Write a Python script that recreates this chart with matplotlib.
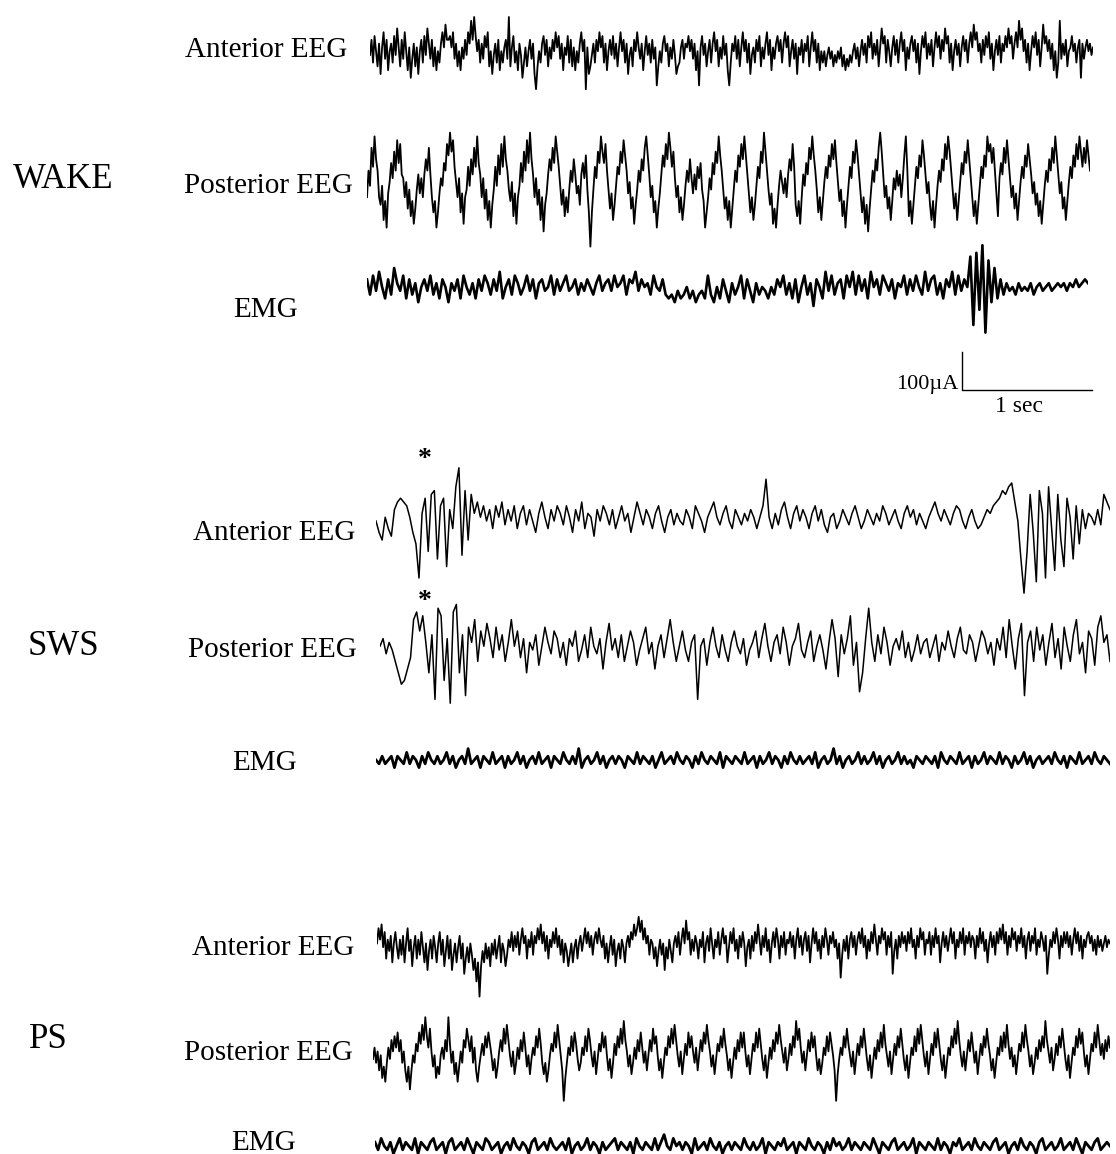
import numpy as np
import matplotlib
matplotlib.use("Agg")
from matplotlib import pyplot as plt

# trace values, in units of 10 uA (scale bar = 10 units)
wake_anterior = [
    0, 4, -2, 5, 1, -3, 3, -5, 2, 6, -1, 4, -4, 1, 3,
    -2, 5, 0, 7, 2, -3, 4, -1, 6, 1, -4, 2, -6, -1, 3,
    -3, 2, -5, 1, 4, -2, 5, 0, 7, 3, -1, 4, -3, 2, -4,
    1, -2, 3, 6, 2, 8, 4, 4, 5, 2, 6, -1, 3, -3, 1,
    -4, 2, -1, 4, 0, 6, 3, 9, 4, 10, 5, 1, 4, -2, 3,
    -1, 5, 2, 6, -3, 1, -5, 0, 3, -2, 4, -4, 1, -2, 2,
    4, -1, 10, -3, 2, 5, -2, 1, -4, 3, 0, -6, -2, 2, -3,
    1, 4, -1, 3, -5, -9, -3, 1, -2, 3, 5, 0, 4, -3, 2,
    -1, 4, 1, 6, 2, 5, -1, 3, -4, 2, 0, 5, -2, 4, -3,
    2, -4, 1, -2, 3, 6, 1, 4, -9, 2, -5, -3, 0, 3, -2,
    4, 1, 6, 2, 5, -2, 3, -4, 1, 4, 0, 5, -1, 3, -3,
    2, 6, 1, 4, -2, 3, -5, 0, 2, -3, 4, 1, 6, 2, -1,
    3, -4, 1, 5, 0, 3, -2, 4, -1, 2, -8, -3, 1, -2, 3,
    5, 1, 3, -3, 2, -1, 4, 0, -5, -3, -2, 2, 4, -1, 3,
    2, 5, 1, 4, -1, 3, -4, 1, -8, 2, 5, 0, 3, -3, 1,
    4, -2, 3, 6, 1, 4, -3, 2, -1, 5, 0, 3, -4, -8, -2,
    3, 1, 5, -1, 4, -3, 2, 6, 1, 4, -2, 3, -5, 0, 2,
    -2, 4, 1, 5, -3, 2, -1, 3, 6, 0, 4, -4, 2, -1, 3,
    5, 1, 4, -2, 3, 6, 2, 5, -3, 1, 4, -1, 3, -5, 2,
    0, 4, -2, 3, 1, 5, -3, 2, 6, 1, 4, -2, 3, -4, 1,
    -2, 1, -3, 0, 2, -1, 1, -3, 0, -2, 1, -1, 2, -3, 0,
    -4, -1, -3, 0, -2, 1, 3, -1, 2, -3, 1, 4, 0, 3, -2,
    5, 2, 6, -1, 3, 0, 4, -3, 2, 7, 3, 5, -2, 4, 1,
    -3, 2, 5, 0, 4, -2, 3, 6, 1, 4, -4, 2, -1, 3, 5,
    1, 4, -2, 3, -5, 1, 5, 2, 6, -1, 3, 0, 4, -3, 2,
    6, 2, 5, -1, 4, 1, 7, 3, 5, -2, 3, -4, 1, 4, 0,
    3, -3, 2, 5, 1, 4, -2, 3, 6, 2, 8, 4, 6, 1, 3,
    -2, 4, 0, 5, 2, 6, -1, 3, -4, 1, 4, 0, 5, -2, 3,
    1, 5, 2, 7, 3, 5, -1, 3, 6, 2, 9, 4, 7, 1, 4,
    -2, 3, -4, 1, 5, 2, 6, 0, 4, -3, 2, 8, 3, 5, 1,
    4, -1, 3, -4, 1, -6, -2, 9, -1, 3, 0, 4, -3, 1, 2,
    5, 1, 3, -2, 2, 4, -6, 3, -1, 2, 4, 1, 3, 0, 2,
]
wake_posterior = [
    -4, 3, -1, 9, 4, 12, 6, 3, -4, -6, -1, -10, -5, -12, -3,
    0, 5, 1, 8, 3, 11, 5, 10, 2, 1, -4, 0, -7, -2, -9,
    -5, -11, -7, -2, 2, -3, 1, -4, 2, 6, 3, 9, 2, -4, -8,
    -5, -12, -8, -3, 1, -1, 5, 3, 10, 7, 13, 8, 11, 4, 0,
    -4, 1, -8, -3, -11, -4, -2, 4, -1, 6, 2, 9, 4, 12, 5,
    2, -4, 1, -7, -2, -10, -5, -12, -6, -2, 4, -1, 7, 2, 10,
    4, 12, 6, 3, -2, -5, 0, -9, -3, -11, -4, -1, 5, 0, 8,
    3, 11, 5, 13, 6, 2, -4, 1, -6, -2, -10, -4, -13, -6, -3,
    2, 6, 3, 9, 5, 12, 8, 4, -1, -6, -2, -9, -4, -8, -2,
    3, 0, 6, 2, -3, -1, -6, 2, 5, 1, 7, -2, -8, -17, -8,
    -2, 4, 1, 8, 5, 12, 8, 5, 10, 3, -2, -7, -3, -10, -6,
    -1, 4, 2, 8, 5, 11, 7, 3, -3, 0, -7, -4, -11, -6, -2,
    3, 0, 6, 3, 9, 12, 7, 2, -4, -1, -8, -5, -12, -7, -3,
    2, 7, 4, 10, 6, 13, 9, 4, 8, 1, -4, -1, -8, -4, -10,
    -6, -1, 3, 0, 6, 1, -3, 2, -2, 4, 1, 5, -2, -5, -12,
    -8, -4, 1, -2, 5, 2, 8, 5, 12, 7, 3, -2, -7, -4, -10,
    -5, -12, -7, -2, 3, 0, 7, 4, 10, 6, 12, 7, 2, -3, -8,
    -4, -10, -6, -1, 4, 1, 8, 5, 13, 8, 3, -2, -6, -3, -11,
    -7, -12, -6, -1, 3, 0, -3, 1, -4, 2, 6, 3, 10, 4, -6,
    -9, -5, -11, -4, 2, -1, 5, 2, 9, 6, 12, 7, 3, -2, -8,
    -4, -10, -5, 0, 4, 1, 7, 4, 10, 6, 11, 5, 0, -5, -2,
    -9, -5, -12, -6, -1, 4, 1, 8, 5, 11, 7, 2, -3, -8, -4,
    -11, -6, -13, -7, -2, 3, 0, 6, 3, 9, 13, 8, 2, -4, -1,
    -7, -4, -10, -5, 1, -2, 3, -1, 2, -4, 1, 7, 12, 3, -9,
    -5, -11, -6, -1, 4, 1, 7, 4, 11, 7, 2, -3, 0, -6, -10,
    -5, -12, -6, -1, 3, 0, 6, 3, 10, 6, 12, 8, 3, -2, -7,
    -3, -10, -5, 0, 5, 2, 8, 5, 11, 6, 1, -4, -9, -5, -11,
    -6, -1, 4, 1, 7, 4, 12, 8, 10, 5, 9, 3, -3, -9, 1,
    5, 2, 9, 5, 11, 6, 1, -4, -1, -7, -3, -10, -5, 0, 4,
    1, 7, 4, 10, 6, 2, -3, 0, -6, -3, -9, -5, -11, -6, -1,
    3, 0, 6, 3, 9, 5, 12, 7, 2, -3, 0, -7, -4, -10, -5,
    0, 4, 1, 7, 4, 10, 6, 12, 8, 4, 9, 5, 11, 7, 3,
]
wake_emg = [
    2, -2, 3, -1, 4, 0, -3, 2, -2, 5, 1, -1, 3, -3, 2, -2, 1, -4, 0, 2,
    -1, 3, -2, 1, -3, 2, 0, -4, 1, -1, 2, -3, 3, 0, -2, 1, -3, 2, -1, 3,
    1, -2, 2, -1, 4, -3, 0, 2, -2, 3, 1, -2, 0, 3, -1, 2, -3, 1, 2, -1,
    0, 3, -2, 2, -1, 1, 3, -1, 0, 2, -2, 1, -1, 2, 0, -2, 1, 3, -1, 1,
    2, -1, 3, 0, 1, 3, -2, 2, 1, 4, -1, 2, 0, 1, -2, 3, 0, -1, 2, -2,
    -3, -2, -4, -1, -3, -2, 0, -3, -1, -4, -2, -1, -3, 3, -2, -4, 0, -3, 2, -1,
    -4, 1, -2, 0, 3, -3, 2, -1, -4, 1, -2, 0, -1, -3, 0, -2, 2, 0, 3, -2,
    1, -3, 2, -4, 0, 3, -2, 1, -5, 2, 0, -3, 4, -1, 3, -2, 1, 2, -3, 3,
    0, 4, -2, 3, -1, 2, -3, 4, 0, 2, -2, 3, 1, -1, 2, -3, 1, 0, 3, -2,
    2, -1, 3, 0, -2, 4, -1, 2, 3, -2, 1, -3, 2, 0, 4, -2, 3, -1, 2, 0,
    8, -10, 9, -6, 11, -12, 7, -4, 5, -3, 2, -2, 1, -1, 0, -2, 1, -1, 0, -1,
    1, -2, 0, 1, -1, 0, 1, -1, 0, 1, 0, 1, -1, 1, 0, 2, 0, 1, 2, 1,
]
sws_anterior = [
    0, -3, -5, 1, -2, -4, 3, 5, 6, 5, 4, 1, -3, -6, -15, 2, 6, -8, 7, 8,
    -10, 4, 6, -12, 3, -2, 9, 14, -9, 8, -5, 7, 2, 5, 1, 4, 0, 3, -2, 4,
    1, 5, -1, 3, 0, 4, -2, 2, 4, -1, 3, 0, -3, 2, 5, 1, -2, 3, 0, 4,
    2, -1, 4, 1, -3, 3, 0, 5, -2, 2, 1, -4, 3, 0, 4, 2, -1, 3, -2, 1,
    4, 0, 2, -3, 1, 5, 2, -1, 3, 1, -2, 2, 4, 0, -3, 1, 3, -1, 2, 0,
    -1, 3, 1, -2, 4, 2, 0, -3, 1, 3, 5, 1, -1, 2, 4, 0, -2, 3, 1, -1,
    2, 0, 3, 1, -2, 1, 4, 11, 1, -2, 2, -1, 3, 5, 1, -2, 2, 4, 0, 3,
    1, -2, 2, 4, 0, 3, -1, -3, 1, 2, -2, 0, 3, 1, -1, 2, 4, 1, -2, 0,
    3, 1, -1, 2, 0, 4, 2, -1, 1, 3, 0, -2, 2, 4, 1, 3, -1, 2, 0, -2,
    1, 3, 5, 2, 0, 3, 1, -1, 2, 4, 3, 0, -2, 1, 3, 0, -2, -1, 1, 3,
    2, 4, 5, 6, 8, 7, 9, 10, 5, 0, -10, -19, -8, 7, -3, -16, 8, 2, -15, 9,
    -2, -13, 7, -5, -12, 6, 1, -10, 4, -6, 3, -2, 2, 1, -1, 3, -1, 7, 5, 3,
]
sws_posterior = [
    1, 3, -1, 2, 0, -3, -6, -9, -8, -5, -2, 8, 10, 5, 9, 2, -6, 4, -13, 11,
    9, -8, 3, -14, 10, 12, -6, 4, -12, 6, 2, 8, -3, 5, 1, 7, 3, -2, 6, 0,
    4, -3, 2, 8, 1, 5, -2, 3, -6, 2, 0, 4, -4, 1, 6, 2, -1, 5, 3, -2,
    2, -4, 3, 1, 5, -3, 0, 4, -2, 6, 1, -1, 3, -5, 2, 7, 0, 3, -2, 4,
    -3, 1, 5, 2, -4, 0, 3, 6, -1, 2, -5, 1, 4, -2, 3, 8, 2, -3, 1, 5,
    0, -3, 2, 4, -13, 1, 3, -4, 2, 6, 1, -2, 4, 0, -3, 2, 5, 1, -1, 3,
    -4, 0, 2, 5, -2, 3, 7, 1, -3, 2, 4, -1, 6, 2, -4, 1, 3, 7, 0, -2,
    2, 5, -3, 1, 4, 0, -5, 2, 8, 3, -7, 4, -1, 3, 9, -4, 2, -11, -6, 3,
    11, 2, -3, 4, -1, 6, 2, -4, 1, 3, 0, 5, -2, 2, -3, 0, 4, -1, 2, 3,
    -2, 1, 4, -3, 2, 0, 5, 1, -2, 3, 6, 0, -1, 4, 2, -3, 1, 5, 3, -1,
    2, -4, 3, 0, 6, -2, 8, 1, -5, 3, 7, -12, 2, 5, -3, 6, 0, 4, -4, 2,
    7, -2, 3, -5, 6, 1, -3, 4, 8, -1, 2, -6, 5, 3, -4, 6, 9, 2, 4, -3,
]
sws_emg = [
    0, -1, 1, -1, 0, 1, -2, 1, 0, -1, 2, -1, 1, 0, -2, 1, -1, 2, 0, -1,
    1, -1, 0, 2, -1, 1, -2, 0, 1, -1, 3, -1, 0, 1, -2, 1, 0, -1, 2, -1,
    0, 1, -2, 1, -1, 0, 2, -1, 1, -2, 0, 1, -1, 2, -1, 0, 1, -2, 1, 0,
    -1, 2, 0, -1, 1, -1, 3, -2, 0, 1, -1, 0, 2, -1, 1, -2, 0, 1, -1, 1,
    0, -2, 1, 0, -1, 2, -1, 1, 0, -1, 1, -2, 0, 2, -1, 0, 1, -1, 2, 0,
    -1, 1, 0, -2, 1, -1, 2, 0, -1, 1, 0, -1, 2, -2, 1, 0, -1, 1, 0, -1,
    2, -1, 0, 1, -2, 1, -1, 0, 2, -1, 1, 0, -2, 1, -1, 2, 0, -1, 1, -1,
    0, 1, -1, 2, -2, 0, 1, -1, 0, 3, -1, 1, -2, 0, 1, -1, 0, 2, -1, 1,
    -1, 0, 2, -1, 1, -2, 0, 1, -1, 0, 2, -1, 1, -1, 0, -2, 1, 0, -1, 1,
    0, -1, 1, -2, 2, 0, -1, 1, 0, -1, 2, -1, 0, 1, -2, 1, -1, 0, 2, -1,
    1, 0, -1, 2, -1, 1, 0, -2, 1, -1, 0, 2, -1, 1, -2, 0, 1, -1, 0, 1,
    -1, 2, 0, -1, 1, -2, 1, 0, -1, 2, -1, 0, 1, -1, 2, 0, -1, 1, 0, -1,
]
ps_anterior = [
    2, 6, 3, 7, 1, 5, -2, 3, 0, 4, -3, 2, 5, 1, -2,
    3, -1, 4, -3, 2, 6, 0, 3, -4, 1, 4, -2, 3, -1, 5,
    1, -3, 2, -5, 0, 3, -2, 4, 1, -3, 2, 5, -1, 3, -4,
    0, 4, -2, 3, -5, -1, 2, -3, 1, 4, -2, 2, -6, -2, 1,
    -3, 2, -1, -5, -2, -8, -3, -12, -4, 0, -3, 2, -2, 1, -4,
    2, -1, 3, -2, 1, 4, -3, 2, 0, -4, -1, 3, 1, 5, 0,
    4, 1, 5, -1, 3, 6, 2, 4, -2, 3, 1, 5, -1, 4, 2,
    6, 3, 7, 2, 5, 0, 4, -2, 3, 1, 5, 2, 6, 1, 4,
    -1, 3, -3, 2, 0, -4, -1, 2, -3, 1, 3, -2, 2, 4, 0,
    3, 6, 2, 5, 1, 4, -1, 3, 5, 2, 6, 3, 1, 4, -2,
    2, -3, 1, 4, -1, 3, -4, 0, 2, -2, 3, 1, -3, 2, 4,
    1, 5, 3, 7, 4, 6, 9, 5, 8, 3, 6, 2, 4, -1, 3,
    2, -2, 1, -4, 0, 3, -1, 2, -5, 1, -2, 3, 0, -3, 2,
    4, 1, 5, -1, 3, 6, 2, 8, 3, 5, -1, 3, 0, 4, 2,
    -2, 3, 1, 5, -3, 2, 4, 0, 6, 2, -2, 3, 1, 5, -1,
    3, 6, 2, 4, -3, 1, 5, 2, 6, 0, 3, -2, 4, 1, 5,
    2, -4, 1, 3, -2, 4, 0, 5, 2, 7, 3, -1, 4, 1, 6,
    0, 3, -3, 2, 5, 1, 6, 3, -2, 4, 1, 5, -1, 3, 2,
    5, 1, 4, -2, 3, 6, 1, 4, -1, 3, 5, 0, 4, -3, 2,
    6, 2, 5, 0, 3, -2, 4, 1, 6, 3, -1, 4, 2, 5, 1,
    3, -2, 2, -7, -1, 3, 0, 4, -2, 3, 5, 1, 4, -1, 3,
    5, 2, 6, 1, 4, -2, 3, 0, 5, 2, 7, 3, -1, 4, 2,
    6, 3, 5, -1, 4, 1, 5, -6, 0, 3, -2, 4, 1, 5, 2,
    4, 0, 5, 2, 6, 1, 3, -2, 4, 1, 6, 3, 5, -1, 3,
    2, 5, -1, 4, 1, 6, 2, 4, -3, 2, 5, 1, 4, 0, 3,
    6, 2, 5, -2, 3, 1, 5, 2, 6, -1, 4, 2, 5, 1, 4,
    3, -2, 4, 1, 6, 2, 5, 0, 3, -3, 2, 5, 1, 4, -1,
    5, 2, 6, 3, 7, 2, 5, -1, 4, 1, 6, 3, 5, 0, 4,
    2, 6, 1, 4, -2, 3, 5, 0, 4, 2, 6, -1, 3, 1, 5,
    3, 0, 4, -6, -1, 3, 1, 5, 2, 6, 3, -2, 4, 1, 5,
    2, 5, 1, 4, -1, 3, 6, 2, 5, 0, 4, -2, 3, 1, 4,
    5, 2, 4, 0, 3, -1, 4, 1, 3, 0, 2, 4, 1, 3, 2,
]
ps_posterior = [
    0, 3, -1, 2, -3, 1, -5, -2, -6, -1, 3, 0, 5, 2, 6,
    3, 7, 2, 5, -1, 2, -3, -6, -2, -8, -3, 1, -1, 4, 2,
    7, 4, 9, 5, 11, 6, 3, 8, 2, -2, 1, -5, -2, -4, 1,
    3, 0, 5, 2, 11, 4, -1, 2, -4, -1, -6, -2, 2, -1, 5,
    3, 8, 5, 2, 6, -1, 3, -3, -6, -2, 1, 4, 1, 6, 3,
    7, 4, 1, -3, 0, -5, -2, 2, 5, 2, 8, 4, 9, 5, 1,
    -2, 2, -4, -1, 3, 0, 5, 2, 7, 3, -2, 1, -4, 0, 3,
    1, 6, 3, 8, 4, -1, -4, -1, -6, -3, 1, 4, 2, 7, 3,
    9, 5, 1, -3, -11, -5, -1, 3, 1, 6, 2, 7, 4, 0, -3,
    -1, 3, 1, 6, 2, 8, 5, 1, -2, 2, -4, 0, 4, 2, 7,
    3, 6, 1, -3, 0, -5, -1, 4, 1, 6, 3, 8, 4, 10, 5,
    2, -2, 1, -4, -1, 3, 0, 5, 2, 7, 3, -1, 2, -3, 1,
    5, 2, 8, 4, 6, 1, -3, 0, -5, -1, 3, 1, 6, 3, 8,
    4, 9, 5, 1, -2, 2, -4, 0, 4, 1, 7, 3, 6, 2, -1,
    3, -3, 1, 5, 2, 7, 4, 9, 5, 2, -2, 1, -4, 0, 4,
    2, 6, 3, 8, 4, 1, -3, 0, -5, -1, 3, 0, 5, 2, 7,
    3, 7, 2, -2, 1, -4, 0, 4, 2, 7, 3, 8, 4, 0, -3,
    1, -5, -1, 3, 0, 5, 2, 7, 4, 9, 5, 2, -1, 3, -3,
    0, 4, 1, 6, 3, 10, 5, 8, 3, -1, 2, -3, 1, 5, 2,
    7, 3, 6, 1, -3, 0, -4, -1, 3, 1, 6, 2, 7, 4, 1,
    -3, -11, -4, 0, 3, 1, 6, 3, 8, 4, 1, -2, 2, -4, 0,
    4, 1, 6, 3, 8, 4, 0, -3, 1, -5, -1, 3, 0, 5, 2,
    7, 3, 9, 4, 1, -2, 2, -4, 0, 4, 1, 6, 3, 8, 4,
    0, -3, 1, -5, -1, 3, 1, 6, 2, 8, 4, 9, 5, 1, -2,
    2, -4, 0, 4, 1, 7, 3, 8, 4, 0, -3, 1, -5, -1, 3,
    1, 6, 3, 8, 4, 10, 5, 1, -2, 2, -3, 1, 5, 2, 7,
    3, -1, 2, -4, 0, 4, 1, 6, 3, 8, 4, 1, -3, 0, -5,
    -1, 3, 1, 6, 2, 7, 3, 9, 4, 0, 3, -2, 1, -4, 0,
    4, 2, 7, 3, 9, 5, 2, -2, 1, -4, -1, 3, 0, 5, 2,
    6, 3, 10, 5, 2, -1, 3, -3, 0, 4, 1, 6, 3, 8, 4,
    0, -3, 1, -5, -1, 3, 1, 6, 3, 8, 4, 7, 2, -2, 1,
    -4, 0, 4, 2, 7, 3, 9, 5, 1, 4, 0, 5, 2, 6, 3,
]
ps_emg = [
    1, -1, 2, 0, -1, 1, -2, 0, 2, -1, 1, 0, -1, 2, -2, 1, 0, -1, 1, 2,
    -1, 0, 1, -2, 1, 2, -1, 0, 1, -1, 2, 0, -2, 1, 0, -1, 2, 1, -1, 0,
    1, -2, 0, 1, -1, 2, 0, -1, 1, 0, -2, 1, 2, -1, 0, 1, -1, 2, 0, -1,
    0, 1, -1, 2, -2, 0, 1, -1, 0, 2, -1, 1, 0, -2, 1, -1, 0, 1, 2, -1,
    1, 0, -1, 1, -2, 2, 0, -1, 1, 0, -1, 2, -1, 1, 3, 0, -1, 2, 0, 1,
    -1, 1, 0, -2, 2, -1, 0, 1, -1, 2, 0, -1, 1, -2, 0, 1, -1, 1, 0, -1,
    2, 0, -1, 1, -1, 0, 2, -2, 1, 0, -1, 1, 0, 2, -1, 0, 1, -2, 1, 0,
    -1, 2, 0, -1, 1, 0, -2, 1, -1, 2, 0, 1, -1, 0, 2, -1, 1, 0, -1, 1,
    0, -1, 2, 0, -2, 1, 0, -1, 1, 2, -1, 0, 1, -1, 0, 2, -2, 1, 0, -1,
    1, 0, -1, 2, -1, 1, 0, -2, 1, 0, 2, -1, 0, 1, -1, 2, 0, -1, 1, 0,
    -1, 1, 2, -1, 0, 1, -2, 0, 1, -1, 2, 0, -1, 1, 0, -2, 1, 2, -1, 0,
    1, -1, 0, 2, -1, 0, 1, -1, 2, 0, -2, 1, 0, -1, 1, 2, -1, 0, 1, 0,
]

states = ["WAKE", "SWS", "PS"]
channels = ["Anterior EEG", "Posterior EEG", "EMG"]

W, H = 1116, 1154
PX_PER_SEC = 130.0   # 1 sec on the scale bar
PX_PER_UNIT = 3.8    # 10 units = 100 uA on the scale bar
SERIF = "Liberation Serif"

fig = plt.figure(figsize=(W / 100, H / 100), dpi=100)
over = fig.add_axes([0, 0, 1, 1])
over.set_xlim(0, W)
over.set_ylim(H, 0)
over.axis("off")

# values, left px, right px, zero-line px, line width
traces = [
    (wake_anterior, 370, 1093, 55, 1.3),
    (wake_posterior, 367, 1090, 182, 1.3),
    (wake_emg, 367, 1088, 287, 1.9),
    (sws_anterior, 376, 1110, 521, 1.1),
    (sws_posterior, 380, 1110, 650, 1.1),
    (sws_emg, 376, 1110, 760, 2.0),
    (ps_anterior, 377, 1110, 951, 1.3),
    (ps_posterior, 373, 1110, 1059, 1.3),
    (ps_emg, 375, 1110, 1146, 2.0),
]
half = 30
for vals, x0, x1, yc, lw in traces:
    dur = (x1 - x0) / PX_PER_SEC
    ax = fig.add_axes([x0 / W, (H - yc - half * PX_PER_UNIT) / H,
                       (x1 - x0) / W, 2 * half * PX_PER_UNIT / H])
    t = np.linspace(0, dur, len(vals))
    ax.plot(t, vals, color="black", lw=lw)
    ax.set_xlim(0, dur)
    ax.set_ylim(-half, half)
    ax.axis("off")

# labels (baselines)
state_pos = [(13, 188), (28, 655), (29, 1048)]
eeg_pos = [[(347, 57), (353, 193)], [(355, 540), (357, 657)], [(354, 955), (353, 1060)]]
emg_pos = [(266, 317), (265, 770), (264, 1150)]
for i, s in enumerate(states):
    over.text(state_pos[i][0], state_pos[i][1], s, family=SERIF, fontsize=25,
              ha="left", va="baseline")
    for j in range(2):
        over.text(eeg_pos[i][j][0], eeg_pos[i][j][1], channels[j], family=SERIF,
                  fontsize=21, ha="right", va="baseline")
    over.text(emg_pos[i][0], emg_pos[i][1], channels[2], family=SERIF, fontsize=21,
              ha="center", va="baseline")

# asterisks over the K-complex
for ya in [466, 608]:
    over.text(425, ya, "*", family=SERIF, fontsize=20, fontweight="bold",
              ha="center", va="baseline")

# scale bar
sx, sy = 962, 390
over.plot([sx, sx, sx + PX_PER_SEC], [sy - 10 * PX_PER_UNIT, sy, sy], color="black", lw=1)
over.text(sx - 4, sy - 1, "100\u00b5A", family=SERIF, fontsize=16, ha="right", va="baseline")
over.text(sx + 0.5 * PX_PER_SEC - 8, sy + 22, "1 sec", family=SERIF, fontsize=17,
          ha="center", va="baseline")

fig.savefig("out.png", dpi=100)
